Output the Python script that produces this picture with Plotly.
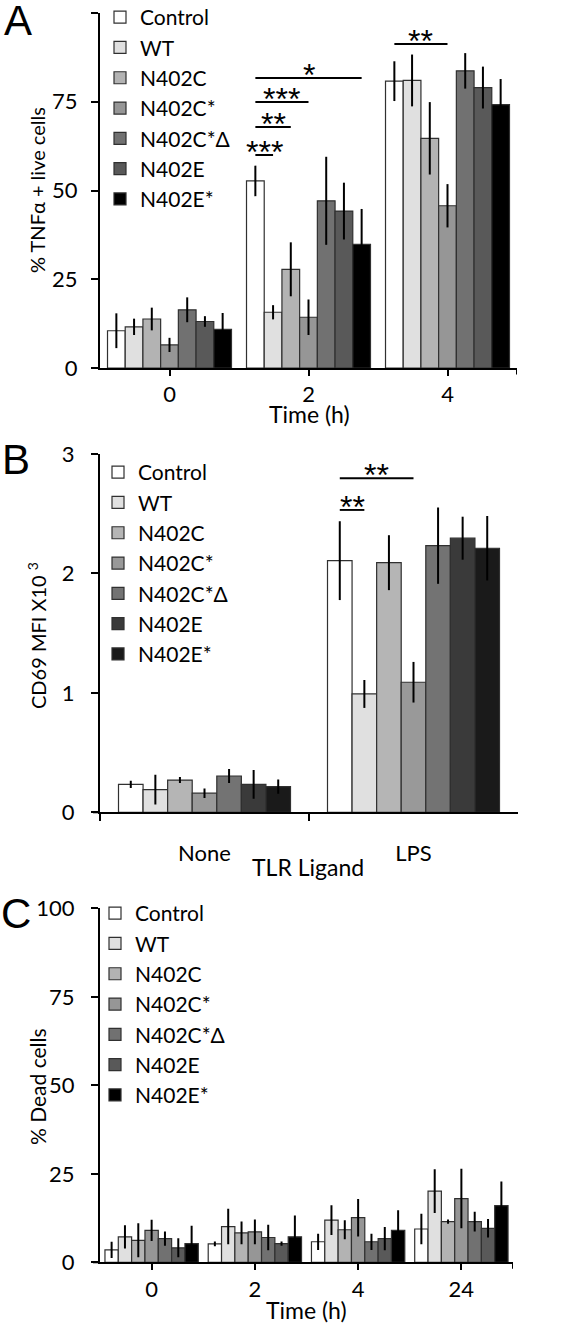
import plotly.graph_objects as go

# ---------------- data ----------------
series = ["Control", "WT", "N402C", "N402C*", "N402C*Δ", "N402E", "N402E*"]
colors_ac = ["#ffffff", "#e0e0e0", "#b3b3b3", "#969696", "#717171", "#595959", "#000000"]
colors_b = ["#ffffff", "#e0e0e0", "#b5b5b5", "#999999", "#737373", "#3a3a3a", "#1a1a1a"]

# Panel A: % TNFa+ live cells vs time (h)
a_time = ["0", "2", "4"]
a_control = [10.5, 52.7, 80.8]
a_wt = [11.6, 15.7, 81.0]
a_n402c = [13.8, 27.8, 64.7]
a_n402cs = [6.5, 14.3, 45.7]
a_n402csd = [16.4, 47.1, 83.7]
a_n402e = [13.1, 44.2, 79.0]
a_n402es = [10.9, 34.8, 74.2]
a_control_err = [4.9, 4.3, 5.6]
a_wt_err = [2.3, 2.0, 7.3]
a_n402c_err = [3.2, 7.6, 10.2]
a_n402cs_err = [2.0, 5.0, 6.1]
a_n402csd_err = [3.5, 12.4, 5.0]
a_n402e_err = [1.5, 8.0, 5.9]
a_n402es_err = [4.6, 10.0, 7.2]

# Panel B: CD69 MFI x10^3 vs TLR ligand
b_ligand = ["None", "LPS"]
b_control = [0.234, 2.107]
b_wt = [0.19, 0.991]
b_n402c = [0.27, 2.09]
b_n402cs = [0.16, 1.089]
b_n402csd = [0.304, 2.233]
b_n402e = [0.234, 2.295]
b_n402es = [0.215, 2.211]
b_control_err = [0.03, 0.33]
b_wt_err = [0.125, 0.117]
b_n402c_err = [0.025, 0.23]
b_n402cs_err = [0.04, 0.17]
b_n402csd_err = [0.058, 0.32]
b_n402e_err = [0.12, 0.18]
b_n402es_err = [0.06, 0.27]

# Panel C: % dead cells vs time (h)
c_time = ["0", "2", "4", "24"]
c_control = [3.5, 5.2, 5.8, 9.4]
c_wt = [7.2, 10.1, 11.9, 20.1]
c_n402c = [6.2, 8.3, 9.2, 11.5]
c_n402cs = [9.0, 8.6, 12.6, 18.0]
c_n402csd = [6.7, 7.0, 5.8, 11.5]
c_n402e = [4.1, 5.3, 6.7, 9.6]
c_n402es = [5.3, 7.2, 9.0, 16.0]
c_control_err = [2.3, 0.7, 2.3, 4.3]
c_wt_err = [3.3, 5.0, 4.2, 6.2]
c_n402c_err = [4.8, 3.2, 2.7, 0.6]
c_n402cs_err = [3.0, 3.5, 5.3, 8.4]
c_n402csd_err = [2.0, 3.6, 2.3, 2.8]
c_n402e_err = [2.7, 0.6, 3.3, 2.6]
c_n402es_err = [5.0, 6.0, 5.7, 6.8]

# significance brackets: (group index, from series, to series, y, label)
a_sig = [(1, 0, 6, 81.7, "*"), (1, 0, 3, 74.9, "***"), (1, 0, 2, 67.9, "**"),
         (1, 0, 1, 60.0, "***"), (2, 0, 3, 91.3, "**")]
b_sig = [(1, 0, 3, 2.797, "**"), (1, 0, 1, 2.532, "**")]

# ---------------- figure ----------------
W, H = 566, 1328
FONT = "Lato"
fig = go.Figure()

def py(px):
    return 1 - px / H

panels = [
    dict(cats=a_time, vals=[a_control, a_wt, a_n402c, a_n402cs, a_n402csd, a_n402e, a_n402es],
         errs=[a_control_err, a_wt_err, a_n402c_err, a_n402cs_err, a_n402csd_err, a_n402e_err, a_n402es_err],
         colors=colors_ac, gap=0.108, xa="x", ya="y", leg="legend", sig=a_sig),
    dict(cats=b_ligand, vals=[b_control, b_wt, b_n402c, b_n402cs, b_n402csd, b_n402e, b_n402es],
         errs=[b_control_err, b_wt_err, b_n402c_err, b_n402cs_err, b_n402csd_err, b_n402e_err, b_n402es_err],
         colors=colors_b, gap=0.177, xa="x2", ya="y2", leg="legend2", sig=b_sig),
    dict(cats=c_time, vals=[c_control, c_wt, c_n402c, c_n402cs, c_n402csd, c_n402e, c_n402es],
         errs=[c_control_err, c_wt_err, c_n402c_err, c_n402cs_err, c_n402csd_err, c_n402e_err, c_n402es_err],
         colors=colors_ac, gap=0.096, xa="x3", ya="y3", leg="legend3", sig=[]),
]

shapes = []
annotations = []
for p in panels:
    n = len(series)
    w = (1 - p["gap"]) / n
    for i, s in enumerate(series):
        fig.add_trace(go.Bar(
            x=p["cats"], y=p["vals"][i], name=s,
            offset=-(1 - p["gap"]) / 2 + i * w, width=w,
            marker=dict(color=p["colors"][i], line=dict(color="#303030", width=1.2)),
            error_y=dict(type="data", array=p["errs"][i], color="black", thickness=2, width=0),
            xaxis=p["xa"], yaxis=p["ya"], legend=p["leg"], showlegend=True,
        ))
    for (g, s0, s1, yv, lab) in p["sig"]:
        x0 = g - (1 - p["gap"]) / 2 + (s0 + 0.5) * w
        x1 = g - (1 - p["gap"]) / 2 + (s1 + 0.5) * w
        shapes.append(dict(type="line", xref=p["xa"], yref=p["ya"], x0=x0, x1=x1, y0=yv, y1=yv,
                           line=dict(color="black", width=2)))
        annotations.append(dict(xref=p["xa"], yref=p["ya"], x=(x0 + x1) / 2, y=yv, text=lab,
                                showarrow=False, yanchor="bottom", yshift=-17,
                                font=dict(family="Liberation Sans", size=32, color="black")))

axis_common = dict(showline=True, linecolor="black", linewidth=2, ticks="outside",
                   tickcolor="black", tickwidth=2, showgrid=False, zeroline=False,
                   automargin=False,
                   tickfont=dict(family=FONT, size=22, color="black"), fixedrange=True)

fig.update_layout(
    template="none",
    width=W, height=H, margin=dict(l=0, r=0, t=0, b=0, autoexpand=False),
    paper_bgcolor="white", plot_bgcolor="white", barmode="overlay",
    font=dict(family=FONT, color="black"),
    xaxis=dict(axis_common, domain=[100 / W, 517 / W], anchor="y", type="category",
               range=[-0.5, 2.5], ticklen=6, ticklabelstandoff=0),
    yaxis=dict(axis_common, domain=[py(368), py(13)], anchor="x", range=[0, 100],
               tickvals=[0, 25, 50, 75, 100], ticklen=7, ticklabelstandoff=9),
    xaxis2=dict(axis_common, domain=[100 / W, 518 / W], anchor="y2", type="category",
                range=[-0.5, 1.5], ticklen=7, tickson="boundaries", ticklabelstandoff=20),
    yaxis2=dict(axis_common, domain=[py(812.3), py(454)], anchor="x2", range=[0, 3],
                tickvals=[0, 1, 2, 3], ticklen=7, ticklabelstandoff=12),
    xaxis3=dict(axis_common, domain=[100 / W, 513 / W], anchor="y3", type="category",
                range=[-0.5, 3.5], ticklen=6),
    yaxis3=dict(axis_common, domain=[py(1262.3), py(908.3)], anchor="x3", range=[0, 100],
                tickvals=[0, 25, 50, 75, 100], ticklen=7, ticklabelstandoff=12),
)

leg_common = dict(xanchor="left", yanchor="top", bgcolor="rgba(0,0,0,0)", tracegroupgap=0,
                  font=dict(family=FONT, size=21, color="black"))
fig.update_layout(
    legend=dict(leg_common, x=100 / W, y=py(-3)),
    legend2=dict(leg_common, x=98 / W, y=py(452)),
    legend3=dict(leg_common, x=95 / W, y=py(893)),
)

# end ticks on the x axes of panels A and C, and small axis overhang left of the y axis
for xa, ya, end in [("x", "y", 2.5), ("x3", "y3", 3.5)]:
    shapes.append(dict(type="line", xref=xa, yref=ya + " domain", x0=end, x1=end, y0=0, y1=-0.018,
                       line=dict(color="black", width=2)))
for ya in ["y", "y2", "y3"]:
    shapes.append(dict(type="line", xref="paper", yref=ya + " domain", x0=93 / W, x1=100 / W,
                       y0=0, y1=0, line=dict(color="black", width=2)))

# axis titles and panel letters
texts = [
    ("% TNFα + live cells", 37, 190, -90, 20),
    ("CD69 MFI X10 <sup>3</sup>", 37, 636, -90, 20),
    ("% Dead cells", 37, 1087, -90, 21),
    ("Time (h)", 309, 414, 0, 23),
    ("TLR Ligand", 308, 867, 0, 23),
    ("Time (h)", 306, 1310, 0, 23),
]
for t, x, y, ang, sz in texts:
    annotations.append(dict(xref="paper", yref="paper", x=x / W, y=py(y), text=t, showarrow=False,
                            textangle=ang, xanchor="center", yanchor="middle",
                            font=dict(family=FONT, size=sz, color="black")))
for t, x, y in [("A", 18, 21), ("B", 16, 460), ("C", 16, 913)]:
    annotations.append(dict(xref="paper", yref="paper", x=x / W, y=py(y), text=t, showarrow=False,
                            xanchor="center", yanchor="middle",
                            font=dict(family="Liberation Sans", size=42, color="black")))

fig.update_layout(shapes=shapes, annotations=annotations)
fig.write_html("out.html", config={"displayModeBar": False},
               post_script="document.body.style.margin='0';document.body.style.padding='0';")
